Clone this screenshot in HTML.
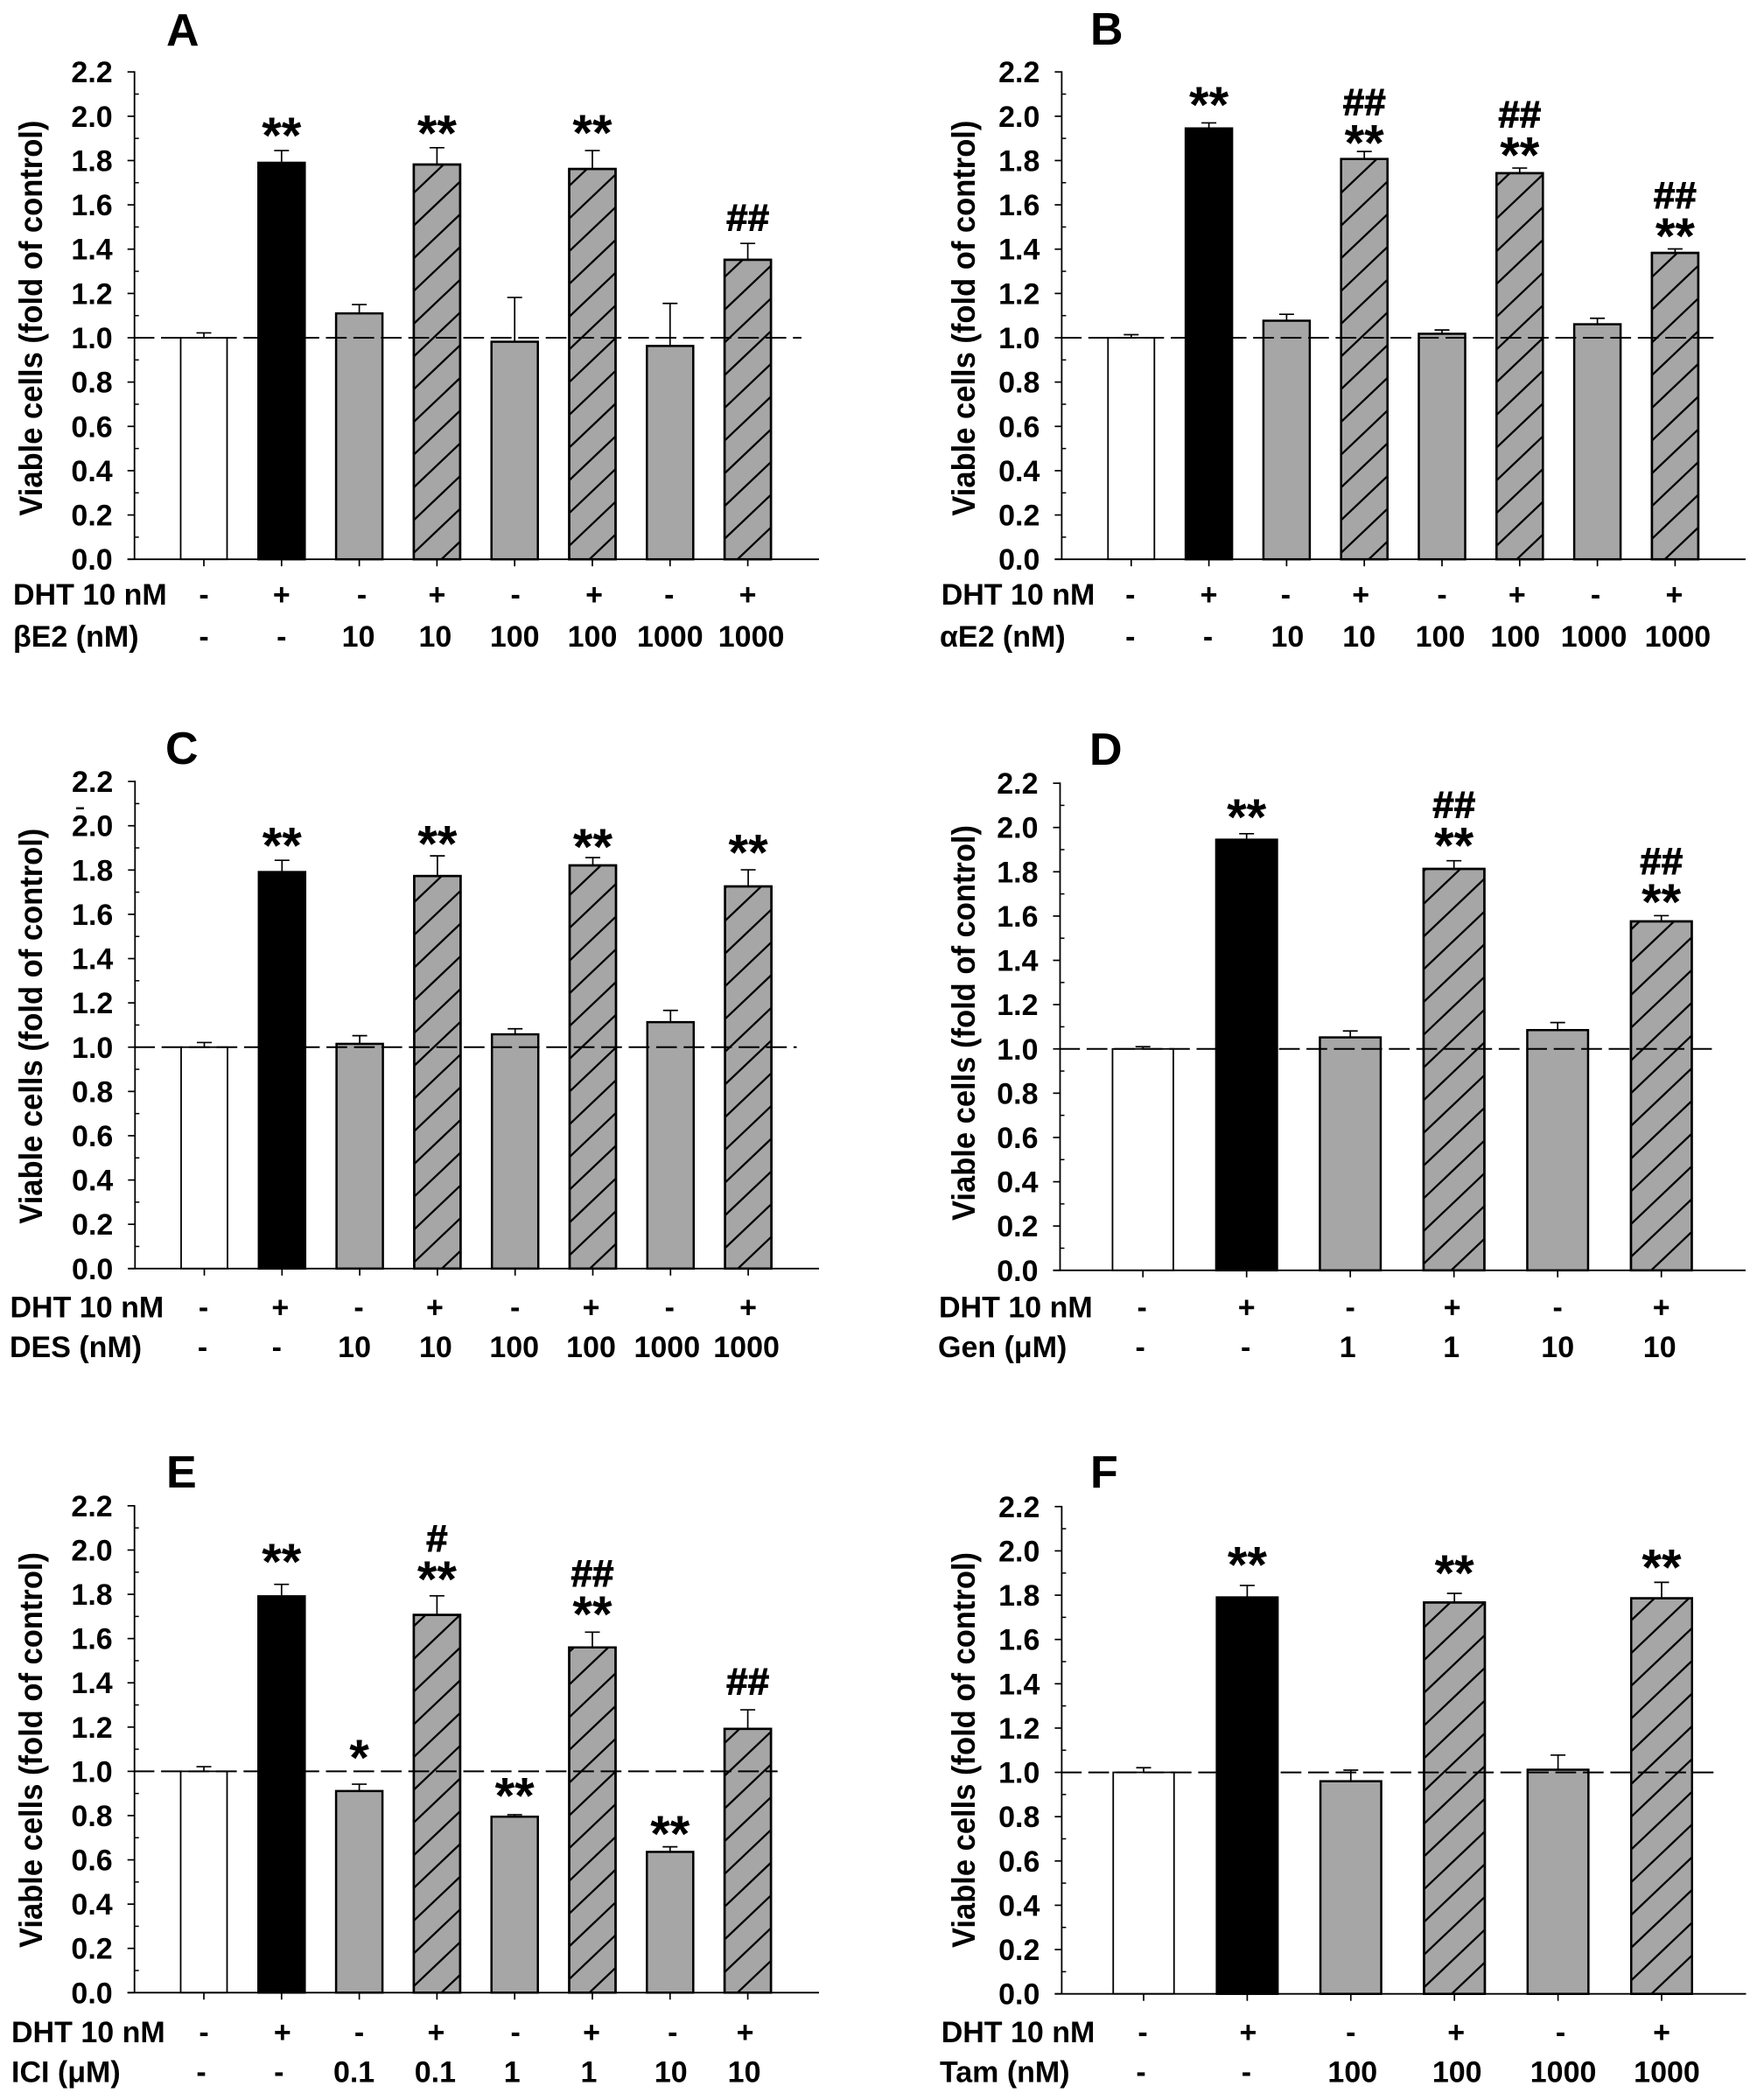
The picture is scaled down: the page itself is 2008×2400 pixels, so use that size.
<!DOCTYPE html>
<html lang="en">
<head>
<meta charset="utf-8">
<title>Viable cells by treatment</title>
<style>
  html, body { margin: 0; padding: 0; background: #fff; }
  svg { display: block; }
  text { font-family: "Liberation Sans", "DejaVu Sans", sans-serif; font-weight: bold; fill: #000; }
</style>
</head>
<body>
<svg id="figure" xmlns="http://www.w3.org/2000/svg" width="2008" height="2400" viewBox="0 0 2008 2400"></svg>
<script>
const yTickLabels = ['0.0','0.2','0.4','0.6','0.8','1.0','1.2','1.4','1.6','1.8','2.0','2.2'];
const yMax = 2.2;
const referenceLevel = 1.0;

const valuesA = [1.00, 1.79, 1.11, 1.782, 0.982, 1.762, 0.963, 1.352];
const errorsA = [0.022, 0.055, 0.04, 0.076, 0.2, 0.083, 0.192, 0.074];
const dhtA = ['-','+','-','+','-','+','-','+'];
const doseA = ['-','-','10','10','100','100','1000','1000'];
const starsA = ['','**','','**','','**','',''];
const hashesA = ['','','','','','','','##'];
const liftA = [0, 0.10, 0, 0.096, 0, 0.11, 0, 0.11];

const valuesB = [1.00, 1.945, 1.077, 1.807, 1.018, 1.743, 1.061, 1.383];
const errorsB = [0.014, 0.025, 0.029, 0.034, 0.017, 0.023, 0.027, 0.018];
const dhtB = ['-','+','-','+','-','+','-','+'];
const doseB = ['-','-','10','10','100','100','1000','1000'];
const starsB = ['','**','','**','','**','','**'];
const hashesB = ['','','','##','','##','','##'];
const liftB = [0, 0.112, 0, 0.069, 0, 0.09, 0, 0.088];

const valuesC = [1.00, 1.791, 1.015, 1.773, 1.058, 1.821, 1.113, 1.726];
const errorsC = [0.021, 0.053, 0.037, 0.091, 0.025, 0.035, 0.053, 0.075];
const dhtC = ['-','+','-','+','-','+','-','+'];
const doseC = ['-','-','10','10','100','100','1000','1000'];
const starsC = ['','**','','**','','**','','**'];
const hashesC = ['','','','','','','',''];
const liftC = [0, 0.098, 0, 0.085, 0, 0.08, 0, 0.108];

const valuesD = [1.00, 1.945, 1.052, 1.813, 1.085, 1.576];
const errorsD = [0.01, 0.027, 0.029, 0.037, 0.034, 0.026];
const dhtD = ['-','+','-','+','-','+'];
const doseD = ['-','-','1','1','10','10'];
const starsD = ['','**','','**','','**'];
const hashesD = ['','','','##','','##'];
const liftD = [0, 0.106, 0, 0.10, 0, 0.092];

const valuesE = [1.00, 1.791, 0.911, 1.707, 0.795, 1.56, 0.636, 1.192];
const errorsE = [0.021, 0.054, 0.031, 0.086, 0.009, 0.069, 0.023, 0.086];
const dhtE = ['-','+','-','+','-','+','-','+'];
const doseE = ['-','-','0.1','0.1','1','1','10','10'];
const starsE = ['','**','*','**','**','**','**',''];
const hashesE = ['','','','#','','##','','##'];
const liftE = [0, 0.134, 0.151, 0.106, 0.116, 0.112, 0.09, 0.121];

const valuesF = [1.00, 1.79, 0.96, 1.767, 1.012, 1.786];
const errorsF = [0.021, 0.054, 0.05, 0.041, 0.066, 0.072];
const dhtF = ['-','+','-','+','-','+'];
const doseF = ['-','-','100','100','1000','1000'];
const starsF = ['','**','','**','','**'];
const hashesF = ['','','','','',''];
const liftF = [0, 0.125, 0, 0.123, 0, 0.099];

const svg = document.getElementById('figure');
const NS = 'http://www.w3.org/2000/svg';

function make(parent, tag, attrs, content) {
  const el = document.createElementNS(NS, tag);
  for (const k in attrs) el.setAttribute(k, attrs[k]);
  if (content !== undefined) el.textContent = content;
  parent.appendChild(el);
  return el;
}

function drawPanel(cfg) {
  const key = cfg.letter.toLowerCase();
  const yScale = v => cfg.y0 - (v / yMax) * (cfg.y0 - cfg.yTop);
  const xScale = i => cfg.xFirst + i * cfg.step;

  const g = make(svg, 'g', {});
  
  

  const letter = make(g, 'text', { x: cfg.letterX, y: cfg.letterY, 'font-size': 52 }, cfg.letter);
  
  

  const yTitle = make(g, 'text', {
    x: 0, y: 0, 'font-size': 36.6, 'text-anchor': 'middle',
    textLength: 452, lengthAdjust: 'spacingAndGlyphs',
    transform: 'translate(' + cfg.yTitleX + ',' + cfg.yTitleY + ') rotate(-90)'
  }, 'Viable cells (fold of control)');
  
  

  // Bars
  cfg.values.forEach((v, i) => {
    const cx = xScale(i);
    const top = yScale(v);
    const bottom = yScale(0);
    const isControl = i === 0;
    const isDhtOnly = i === 1;
    const isHatched = i > 1 && i % 2 === 1;
    const fill = isControl ? '#ffffff' : isDhtOnly ? '#000000' : '#a6a6a6';
    const sw = isControl ? 1.8 : 2.5;

    const bar = make(g, 'rect', {
      x: cx - cfg.barW / 2, y: top, width: cfg.barW, height: bottom - top,
      fill: fill, stroke: '#000', 'stroke-width': sw
    });
    
    

    if (isHatched) {
      const clipId = 'clip-' + key + '-' + i;
      const defs = make(g, 'defs', {});
      const clip = make(defs, 'clipPath', { id: clipId });
      make(clip, 'rect', { x: cx - cfg.barW / 2, y: top, width: cfg.barW, height: bottom - top });
      const hatch = make(g, 'g', { 'clip-path': 'url(#' + clipId + ')', stroke: '#000', 'stroke-width': 2.3 });
      
      
      const spacing = 37.4;
      const slope = 0.95;
      const phase = 30 - 8 * ((i - 3) / 2);
      const left = cx - cfg.barW / 2;
      for (let hit = bottom + phase; hit > top - spacing * 3; hit -= spacing) {
        make(hatch, 'line', { x1: left, y1: hit, x2: left + cfg.barW, y2: hit - cfg.barW * slope });
      }
      const outline = make(g, 'rect', {
        x: cx - cfg.barW / 2, y: top, width: cfg.barW, height: bottom - top,
        fill: 'none', stroke: '#000', 'stroke-width': sw
      });
      
      
    }

    // Error bars
    const errTop = yScale(v + cfg.errors[i]);
    const stem = make(g, 'line', { x1: cx, y1: top, x2: cx, y2: errTop, stroke: '#000', 'stroke-width': 1.7 });
    
    
    const cap = make(g, 'line', { x1: cx - 8.5, y1: errTop, x2: cx + 8.5, y2: errTop, stroke: '#000', 'stroke-width': 1.7 });
    
    

    // Significance marks
    const markCenter = yScale(v + cfg.errors[i] + cfg.lift[i]);
    if (cfg.stars[i]) {
      const star = make(g, 'text', {
        x: cx, y: markCenter + 28, 'font-size': 58, 'text-anchor': 'middle'
      }, cfg.stars[i]);
      
      
    }
    if (cfg.hashes[i]) {
      const hashCenter = cfg.stars[i] ? markCenter - 37 : markCenter;
      const hash = make(g, 'text', {
        x: cx, y: hashCenter + 13, 'font-size': 44, 'text-anchor': 'middle',
        stroke: '#000', 'stroke-width': 1
      }, cfg.hashes[i]);
      
      
    }

    // X ticks and treatment rows
    const xTick = make(g, 'line', { x1: cx, y1: bottom, x2: cx, y2: bottom + 8, stroke: '#000', 'stroke-width': 1.7 });
    
    

    const dht = make(g, 'text', { x: cx + cfg.dhtShift[i], y: cfg.row1Y, 'font-size': 34, 'text-anchor': 'middle' }, cfg.dht[i]);
    
    
    const dose = make(g, 'text', { x: cx + cfg.doseShift[i], y: cfg.row2Y, 'font-size': 34, 'text-anchor': 'middle' }, cfg.dose[i]);
    
    
  });

  // Axes
  const yAxis = make(g, 'line', { x1: cfg.axisX, y1: cfg.yTop - 0.8, x2: cfg.axisX, y2: cfg.y0, stroke: '#000', 'stroke-width': 1.8 });
  
  
  const xAxis = make(g, 'line', { x1: cfg.axisX - 8, y1: cfg.y0, x2: cfg.xEnd, y2: cfg.y0, stroke: '#000', 'stroke-width': 1.8 });
  
  

  yTickLabels.forEach((label, i) => {
    const v = parseFloat(label);
    const y = yScale(v);
    const tick = make(g, 'line', { x1: cfg.axisX - 8, y1: y, x2: cfg.axisX, y2: y, stroke: '#000', 'stroke-width': 1.7 });
    
    
    const t = make(g, 'text', { x: cfg.axisX - 25, y: y + 12, 'font-size': 34, 'text-anchor': 'end' }, label);
    
    
    if (i < yTickLabels.length - 1) {
      const ym = yScale(v + 0.1);
      const minor = make(g, 'line', { x1: cfg.axisX, y1: ym, x2: cfg.axisX + 5, y2: ym, stroke: '#000', 'stroke-width': 1.5 });
      
      
    }
  });

  // Reference line
  const yr = yScale(referenceLevel);
  const ref = make(g, 'line', {
    x1: cfg.axisX - 1, y1: yr, x2: cfg.dashEnd, y2: yr, stroke: '#000', 'stroke-width': 2,
    'stroke-dasharray': '23.7 7.7'
  });
  
  

  // Row titles
  const r1 = make(g, 'text', { x: cfg.row1X, y: cfg.row1Y, 'font-size': 34 }, 'DHT 10 nM');
  
  
  const r2 = make(g, 'text', { x: cfg.row2X, y: cfg.row2Y, 'font-size': 34 }, cfg.doseTitle);
  
  
}

drawPanel({ letter: 'A', letterX: 190, letterY: 52, axisX: 153.7, yTop: 82.2, y0: 639.2, xFirst: 233, step: 88.8, barW: 53, xEnd: 936, dashEnd: 916,
  yTitleX: 48, yTitleY: 363.6, row1X: 15, row2X: 15, row1Y: 691, row2Y: 739, doseTitle: 'βE2 (nM)',
  dhtShift: [0,0,3,0,1,2,-1,0], doseShift: [0,0,-1,-2,0,0,0,4],
  values: valuesA, errors: errorsA, dht: dhtA, dose: doseA, stars: starsA, hashes: hashesA, lift: liftA });
drawPanel({ letter: 'B', letterX: 1246, letterY: 51, axisX: 1213.4, yTop: 82.2, y0: 639.2, xFirst: 1292.8, step: 88.8, barW: 53, xEnd: 1995, dashEnd: 1959,
  yTitleX: 1114, yTitleY: 363.6, row1X: 1075.7, row2X: 1074, row1Y: 691, row2Y: 739, doseTitle: 'αE2 (nM)',
  dhtShift: [-1,0,-1,-4,0,-3,-2,-1], doseShift: [-1,-1,1,-6,-2,-5,-4,3],
  values: valuesB, errors: errorsB, dht: dhtB, dose: doseB, stars: starsB, hashes: hashesB, lift: liftB });
drawPanel({ letter: 'C', letterX: 189, letterY: 873, axisX: 154.3, yTop: 893.1, y0: 1449.8, xFirst: 233.5, step: 88.8, barW: 53, xEnd: 936, dashEnd: 910.5,
  yTitleX: 48, yTitleY: 1172.7, row1X: 11.5, row2X: 11, row1Y: 1505.5, row2Y: 1551, doseTitle: 'DES (nM)',
  dhtShift: [-1,-2,-1,-3,0,-2,-1,0], doseShift: [-2,-6,-6,-2,-1,-2,-4,-2],
  values: valuesC, errors: errorsC, dht: dhtC, dose: doseC, stars: starsC, hashes: hashesC, lift: liftC });
drawPanel({ letter: 'D', letterX: 1245, letterY: 874, axisX: 1211.5, yTop: 895.1, y0: 1451.8, xFirst: 1306.2, step: 118.5, barW: 69.5, xEnd: 1995, dashEnd: 1958,
  yTitleX: 1114, yTitleY: 1169, row1X: 1073, row2X: 1072, row1Y: 1505.5, row2Y: 1551, doseTitle: 'Gen (μM)',
  dhtShift: [-1,0,0,-2,0,0], doseShift: [-3,-1,-3,-3,0,-2],
  values: valuesD, errors: errorsD, dht: dhtD, dose: doseD, stars: starsD, hashes: hashesD, lift: liftD });
drawPanel({ letter: 'E', letterX: 190, letterY: 1700, axisX: 153.7, yTop: 1720.9, y0: 2277.3, xFirst: 233, step: 88.8, barW: 53, xEnd: 936, dashEnd: 888.7,
  yTitleX: 48, yTitleY: 2000, row1X: 13, row2X: 13, row1Y: 2334, row2Y: 2379.7, doseTitle: 'ICI (μM)',
  dhtShift: [0,1,0,-1,1,-1,3,-3], doseShift: [-3,-3,-6,-2,-3,-4,1,-4],
  values: valuesE, errors: errorsE, dht: dhtE, dose: doseE, stars: starsE, hashes: hashesE, lift: liftE });
drawPanel({ letter: 'F', letterX: 1246, letterY: 1700, axisX: 1213.4, yTop: 1721.8, y0: 2278.7, xFirst: 1307, step: 118.4, barW: 69.5, xEnd: 1995.5, dashEnd: 1959.3,
  yTitleX: 1114, yTitleY: 2000, row1X: 1075.7, row2X: 1074, row1Y: 2334, row2Y: 2379.7, doseTitle: 'Tam (nM)',
  dhtShift: [-1,1,0,2,3,0], doseShift: [-3,-1,2,3,6,6],
  values: valuesF, errors: errorsF, dht: dhtF, dose: doseF, stars: starsF, hashes: hashesF, lift: liftF });

const stray = make(svg, 'rect', { x: 87, y: 922.5, width: 9, height: 2.5, fill: '#000' });


</script>
</body>
</html>
